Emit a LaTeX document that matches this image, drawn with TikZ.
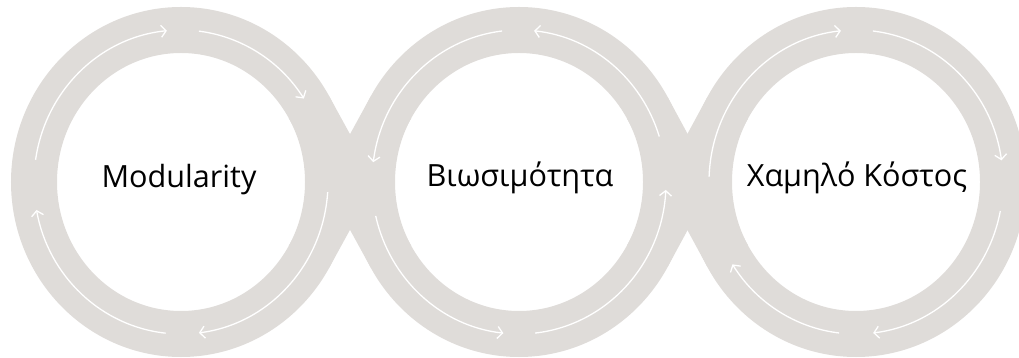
\documentclass[tikz,border=0pt]{standalone}
\usepackage{fontspec}
\setmainfont{Open Sans}
\usetikzlibrary{arrows.meta}
\definecolor{ringgray}{RGB}{223,220,217}
\tikzset{
  band/.style={line width=46pt, draw=ringgray},
  flow/.style={draw=white, line width=1.3pt, -{Straight Barb[length=5pt,width=12pt]}},
  label/.style={font=\fontsize{30.6}{36}\selectfont, anchor=base, inner sep=0pt}
}
\begin{document}
\begin{tikzpicture}[x=1pt,y=1pt]
\useasboundingbox (0,0) rectangle (1019,358);
\clip (0,0) rectangle (1019,358);
\coordinate (c1) at (181,176);
\coordinate (c2) at (519,176);
\coordinate (c3) at (856,176);
% tangent points
\coordinate (t1u) at (308.86,251.0);
\coordinate (t1d) at (308.86,101.0);
\coordinate (t2lu) at (391.14,251.0);
\coordinate (t2ld) at (391.14,101.0);
\coordinate (t2ru) at (647.24,250.3);
\coordinate (t2rd) at (647.24,101.7);
\coordinate (t3lu) at (727.76,250.3);
\coordinate (t3ld) at (727.76,101.7);
% rings
\foreach \c in {c1,c2,c3}
  \draw[band] (\c) ellipse [x radius=147, y radius=152];
% crossing bands
\draw[band] (t1u) -- (t2ld);
\draw[band] (t1d) -- (t2lu);
\draw[band] (t2ru) -- (t3ld);
\draw[band] (t2rd) -- (t3lu);
% arrows ring 1 (clockwise)
\draw[flow] ([shift={(171.6:147 and 152)}]c1) arc[start angle=171.6, end angle=95.5, x radius=147, y radius=152];
\draw[flow] ([shift={(83:147 and 152)}]c1) arc[start angle=83, end angle=33.3, x radius=147, y radius=152];
\draw[flow] ([shift={(-3.8:147 and 152)}]c1) arc[start angle=-3.8, end angle=-83, x radius=147, y radius=152];
\draw[flow] ([shift={(-96:147 and 152)}]c1) arc[start angle=-96, end angle=-169.4, x radius=147, y radius=152];
% arrows ring 2 (counter-clockwise)
\draw[flow] ([shift={(96.6:147 and 152)}]c2) arc[start angle=96.6, end angle=172.5, x radius=147, y radius=152];
\draw[flow] ([shift={(17.4:147 and 152)}]c2) arc[start angle=17.4, end angle=84.1, x radius=147, y radius=152];
\draw[flow] ([shift={(-83.7:147 and 152)}]c2) arc[start angle=-83.7, end angle=-3, x radius=147, y radius=152];
\draw[flow] ([shift={(192.9:147 and 152)}]c2) arc[start angle=192.9, end angle=263.9, x radius=147, y radius=152];
% arrows ring 3 (clockwise)
\draw[flow] ([shift={(178:147 and 152)}]c3) arc[start angle=178, end angle=95.9, x radius=147, y radius=152];
\draw[flow] ([shift={(83.4:147 and 152)}]c3) arc[start angle=83.4, end angle=8.2, x radius=147, y radius=152];
\draw[flow] ([shift={(-11:147 and 152)}]c3) arc[start angle=-11, end angle=-83.3, x radius=147, y radius=152];
\draw[flow] ([shift={(-96.6:147 and 152)}]c3) arc[start angle=-96.6, end angle=-147.2, x radius=147, y radius=152];
% labels
\node[label] (l1) at (179,170) {Modularity};
\node[label] (l2) at (520,171) {Βιωσιμότητα};
\node[label] (l3) at (857,171) {Χαμηλό Κόστος};
\end{tikzpicture}
\end{document}
